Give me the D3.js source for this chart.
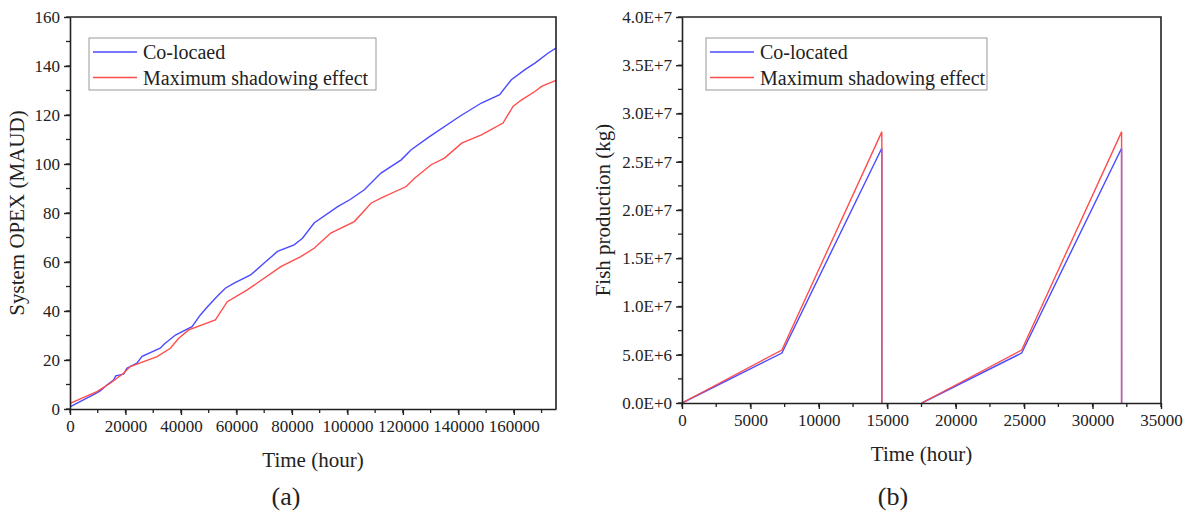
<!DOCTYPE html>
<html>
<head>
<meta charset="utf-8">
<script src="https://cdn.jsdelivr.net/npm/d3@7"></script>
<style>
  body { margin: 0; background: #fff; }
  svg text { font-family: "Liberation Serif", "Times New Roman", serif; fill: #222; }
  .axis path, .axis line { stroke: #222; }
  .axis path { stroke-width: 1.6; }
  .axis line { stroke-width: 1.4; }
</style>
</head>
<body>
<svg id="chart" width="1189" height="516"></svg>
<script>
// (a) System OPEX
const coLocHours = [0, 9000, 11000, 13300, 15700, 16500, 19300, 20500, 24100, 26000, 32500, 34000, 38000, 44000, 47000, 49400, 53000, 56000, 59000, 65100, 69900, 74800, 80800, 83800, 88000, 96500, 101000, 106100, 112100, 119400, 123000, 129600, 140400, 148300, 154900, 159100, 164000, 167600, 172400, 175200];
const coLocOpex = [0.9, 6.2, 7.5, 9.8, 11.8, 13.5, 14.2, 16.6, 18.7, 21.5, 24.8, 26.5, 30.2, 33.6, 38.4, 41.5, 45.9, 49.3, 51.3, 54.7, 59.5, 64.3, 67, 69.7, 75.9, 82.6, 85.5, 89.5, 96.3, 101.7, 105.8, 111.2, 119.4, 124.9, 128.3, 134.4, 138.5, 141.2, 145.3, 147.3];
const shadowHours = [0, 9700, 14500, 19300, 21700, 31400, 36200, 39200, 42800, 52400, 56700, 63900, 76000, 83200, 88000, 94000, 102500, 108500, 112100, 121200, 124200, 130200, 135000, 141200, 148300, 156100, 159700, 162800, 167600, 170000, 175200];
const shadowOpex = [2.3, 7.1, 10.5, 14.6, 17.3, 21.4, 24.8, 28.9, 32.3, 36.4, 43.8, 48.6, 58.1, 62.2, 65.6, 71.8, 76.5, 84, 86.1, 90.8, 94.2, 99.7, 102.4, 108.5, 111.9, 116.7, 123.5, 126.2, 129.6, 131.7, 134.1];

// (b) Fish production, null = gap between the two cycles
const fishHours = [0, 7300, 14600, 14600, 17520, 17520, 24820, 32120, 32120];
const fishCoLoc = [0, 5.18e6, 26.4e6, 0, null, 0, 5.18e6, 26.4e6, 0];
const fishShadow = [0, 5.49e6, 28.1e6, 0, null, 0, 5.49e6, 28.1e6, 0];

const opexTicks = [0, 20, 40, 60, 80, 100, 120, 140, 160];
const fishTicks = [0, 5e6, 1e7, 1.5e7, 2e7, 2.5e7, 3e7, 3.5e7, 4e7];

const BLUE = "#4a4aff";
const RED = "#ff4d4d";

const svg = d3.select("#chart");

function sciFormat(d) {
  const e = d === 0 ? 0 : Math.floor(Math.log10(d));
  return (d / Math.pow(10, e)).toFixed(1) + "E+" + e;
}

function drawPanel(p) {
  const x = d3.scaleLinear().domain(p.xDomain).range([p.left, p.right]);
  const y = d3.scaleLinear().domain(p.yDomain).range([p.bottom, p.top]);
  const g = svg.append("g");

  // minor ticks
  g.append("g").selectAll("line")
    .data(d3.range(p.xDomain[0], p.xDomain[1] + 1, p.xMinor))
    .join("line")
    .attr("x1", d => x(d)).attr("x2", d => x(d))
    .attr("y1", p.bottom).attr("y2", p.bottom + 4)
    .attr("stroke", "#222").attr("stroke-width", 1.3);
  g.append("g").selectAll("line")
    .data(d3.range(p.yDomain[0], p.yDomain[1] + 1, p.yMinor))
    .join("line")
    .attr("x1", p.left - 4).attr("x2", p.left)
    .attr("y1", d => y(d)).attr("y2", d => y(d))
    .attr("stroke", "#222").attr("stroke-width", 1.3);

  // lines
  p.series.forEach(s => {
    const pts = s.xs.map((v, i) => [v, s.ys[i]]);
    g.append("path")
      .datum(pts)
      .attr("fill", "none")
      .attr("stroke", s.color)
      .attr("stroke-width", 1.4)
      .attr("d", d3.line()
        .defined(d => d[1] !== null)
        .x(d => x(d[0])).y(d => y(d[1])));
  });

  // axes
  g.append("g")
    .attr("class", "axis")
    .attr("transform", `translate(0,${p.bottom})`)
    .call(d3.axisBottom(x).tickValues(p.xTicks).tickFormat(d3.format("d")).tickSize(6).tickSizeOuter(0).tickPadding(5))
    .call(a => a.selectAll("text").attr("font-size", 17).attr("font-family", "Liberation Serif"));
  g.append("g")
    .attr("class", "axis")
    .attr("transform", `translate(${p.left},0)`)
    .call(d3.axisLeft(y).tickValues(p.yTicks).tickFormat(p.yFormat).tickSize(6).tickSizeOuter(0).tickPadding(4))
    .call(a => a.selectAll("text").attr("font-size", 17).attr("font-family", "Liberation Serif"));

  // frame top/right
  g.append("path")
    .attr("d", `M${p.left},${p.top}H${p.right}V${p.bottom}`)
    .attr("fill", "none").attr("stroke", "#222").attr("stroke-width", 1.6);

  // titles
  g.append("text")
    .attr("x", (p.left + p.right) / 2).attr("y", p.bottom + 58)
    .attr("text-anchor", "middle").attr("font-size", 21)
    .text("Time (hour)");
  g.append("text")
    .attr("transform", `translate(${p.yTitleX},${(p.top + p.bottom) / 2}) rotate(-90)`)
    .attr("text-anchor", "middle").attr("font-size", 21)
    .text(p.yTitle);
  g.append("text")
    .attr("x", p.tagX).attr("y", 505)
    .attr("text-anchor", "middle").attr("font-size", 26)
    .text(p.tag);

  // legend
  const lg = g.append("g").attr("transform", `translate(${p.legendX},38)`);
  lg.append("rect")
    .attr("width", p.legendW).attr("height", 52)
    .attr("fill", "#fff").attr("stroke", "#999").attr("stroke-width", 1);
  p.series.forEach((s, i) => {
    lg.append("line")
      .attr("x1", 4).attr("x2", 48)
      .attr("y1", 14 + i * 25.5).attr("y2", 14 + i * 25.5)
      .attr("stroke", s.color).attr("stroke-width", 1.4);
    lg.append("text")
      .attr("x", 54).attr("y", 21 + i * 25.5)
      .attr("font-size", 20)
      .text(s.name);
  });
}

drawPanel({
  left: 70, right: 556, top: 17, bottom: 409,
  xDomain: [0, 175200], yDomain: [0, 160],
  xTicks: d3.range(0, 160001, 20000), yTicks: opexTicks,
  xMinor: 10000, yMinor: 10,
  yFormat: d3.format("d"),
  yTitle: "System OPEX (MAUD)", yTitleX: 24,
  tag: "(a)", tagX: 286,
  legendX: 89, legendW: 287,
  series: [
    { name: "Co-locaed", xs: coLocHours, ys: coLocOpex, color: BLUE },
    { name: "Maximum shadowing effect", xs: shadowHours, ys: shadowOpex, color: RED }
  ]
});

drawPanel({
  left: 682, right: 1161, top: 17, bottom: 403,
  xDomain: [0, 35000], yDomain: [0, 4e7],
  xTicks: d3.range(0, 35001, 5000), yTicks: fishTicks,
  xMinor: 2500, yMinor: 2.5e6,
  yFormat: sciFormat,
  yTitle: "Fish production (kg)", yTitleX: 610,
  tag: "(b)", tagX: 893,
  legendX: 706, legendW: 281,
  series: [
    { name: "Co-located", xs: fishHours, ys: fishCoLoc, color: BLUE },
    { name: "Maximum shadowing effect", xs: fishHours, ys: fishShadow, color: RED }
  ]
});
</script>
</body>
</html>
